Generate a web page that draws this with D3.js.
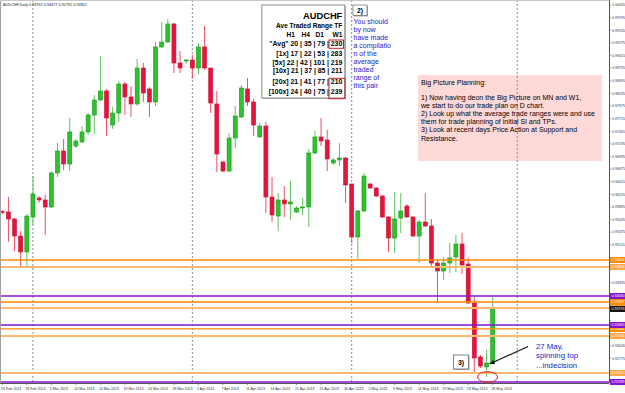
<!DOCTYPE html>
<html><head><meta charset="utf-8">
<script src="https://cdn.jsdelivr.net/npm/d3@7"></script>
<style>body{margin:0;background:#fff;} svg{display:block;font-family:"Liberation Sans",Arial,sans-serif;}</style>
</head><body><svg id="c" width="625" height="393"></svg>
<script>
// ---- Data (AUDCHF Daily, 81 bars) ----
const opens  = [0.95801,0.95791,0.95647,0.95296,0.94967,0.95688,0.96079,0.96038,0.95894,0.96594,
                0.97047,0.96780,0.97150,0.97233,0.97439,0.97789,0.98098,0.98283,0.97583,0.97830,
                0.98428,0.98160,0.98016,0.98757,0.98325,0.98057,0.99190,0.99293,0.99664,0.98860,
                0.98901,0.98922,0.98757,0.99190,0.98757,0.98016,0.96821,0.96635,0.97315,0.97748,
                0.98325,0.98057,0.97336,0.97562,0.96100,0.95708,0.96038,0.95956,0.95791,0.95873,
                0.95894,0.97006,0.97336,0.97274,0.96800,0.96862,0.96903,0.96368,0.95276,0.95811,
                0.96368,0.96285,0.96120,0.95688,0.95255,0.95667,0.95914,0.95688,0.95296,0.95585,
                0.95502,0.94740,0.94575,0.94740,0.94864,0.95132,0.94720,0.93916,0.92804,0.92598,
                0.92680];
const highs  = [0.95832,0.96100,0.95667,0.95399,0.95750,0.96532,0.96120,0.96141,0.96635,0.97212,
                0.97295,0.97727,0.97295,0.97562,0.97830,0.98201,0.99004,0.98325,0.97954,0.98489,
                0.98469,0.98386,0.98943,0.98860,0.98366,0.99293,0.99705,0.99767,0.99684,0.99107,
                0.98943,0.99025,0.99272,0.99622,0.98757,0.98283,0.96841,0.97418,0.97974,0.98407,
                0.98551,0.98119,0.97624,0.97645,0.96512,0.96182,0.96326,0.96429,0.95914,0.96079,
                0.97089,0.97459,0.97727,0.97480,0.96903,0.97212,0.96924,0.96368,0.95832,0.96594,
                0.96388,0.96306,0.96141,0.95708,0.96203,0.96182,0.95956,0.95708,0.95626,0.96182,
                0.95647,0.94802,0.94864,0.95152,0.95317,0.95358,0.94843,0.94040,0.92845,0.92948,
                0.94040];
const lows   = [0.95750,0.95173,0.94987,0.94658,0.94658,0.95523,0.95976,0.95317,0.95873,0.96512,
                0.96656,0.96635,0.97109,0.97212,0.97377,0.97398,0.98077,0.97356,0.97501,0.97645,
                0.97789,0.97748,0.97974,0.98057,0.97748,0.97974,0.99169,0.99272,0.98654,0.98654,
                0.98840,0.98531,0.98634,0.98716,0.97830,0.96615,0.96615,0.96615,0.97109,0.97727,
                0.97974,0.97356,0.97336,0.95770,0.95585,0.95399,0.95688,0.95626,0.95770,0.95729,
                0.95482,0.96986,0.97150,0.96635,0.96759,0.96738,0.95976,0.95152,0.94823,0.95791,
                0.96265,0.96100,0.95668,0.94967,0.94946,0.95358,0.95668,0.95276,0.94740,0.95482,
                0.94637,0.93916,0.94390,0.94534,0.94555,0.94514,0.93896,0.92495,0.92577,0.92392,
                0.92660];
const closes = [0.95781,0.95647,0.95296,0.94967,0.95708,0.96162,0.96038,0.95894,0.96594,0.97047,
                0.96780,0.97439,0.97253,0.97439,0.97789,0.98098,0.98283,0.97727,0.97830,0.98428,
                0.98160,0.98016,0.98757,0.98242,0.98057,0.99190,0.99293,0.99664,0.98860,0.98757,
                0.98922,0.98757,0.99190,0.98757,0.98036,0.96986,0.96635,0.97315,0.97768,0.98345,
                0.98057,0.97583,0.97562,0.96100,0.95729,0.96038,0.95956,0.95997,0.95873,0.95894,
                0.97006,0.97336,0.97253,0.96883,0.96862,0.96903,0.96347,0.95276,0.95811,0.96532,
                0.96285,0.96120,0.95688,0.95255,0.95647,0.95811,0.95688,0.95296,0.95585,0.95502,
                0.94740,0.94575,0.94740,0.94843,0.95132,0.94699,0.93916,0.92783,0.92618,0.92680,
                0.93793];
const xTickIndex  = [0,4,8,12,16,20,24,28,32,36,40,44,48,52,56,60,64,68,72,76,80];
const xTickLabels = ["26 Feb 2013","28 Feb 2013","5 Mar 2013","10 Mar 2013","14 Mar 2013","19 Mar 2013",
                     "24 Mar 2013","28 Mar 2013","2 Apr 2013","7 Apr 2013","11 Apr 2013","16 Apr 2013",
                     "21 Apr 2013","25 Apr 2013","30 Apr 2013","5 May 2013","9 May 2013","14 May 2013",
                     "19 May 2013","23 May 2013","28 May 2013"];
const yTickValues = [1.00055,0.99795,0.99535,0.99275,0.99015,0.98755,0.98495,0.98235,0.97975,0.97715,
                     0.97455,0.97195,0.96935,0.96675,0.96415,0.96155,0.95895,0.95635,0.95375,0.95115,
                     0.94855,0.94595,0.94335,0.94075,0.93815,0.93555,0.93295,0.93035,0.92775,0.92515];
const orangeLevels = [0.94802,0.93937,0.93381];
const paleLevels   = [0.94658,0.93813,0.93236,0.92474];
const purpleLevels = [0.94060,0.93463,0.92289];
const separatorIndex = [5,31,57,84];
const tfHeaders = ["H1","H4","D1","W1"];
const rangeRows = ['"Avg"','[1x]','[5x]','[10x]','[20x]','[100x]'];
const rangeH1 = [20,17,22,21,21,24];
const rangeH4 = [35,22,42,37,41,40];
const rangeD1 = [79,53,101,85,77,75];
const rangeW1 = [230,283,219,211,210,239];
const noteLines = ["You should","by now","have made","a compilatio","n of the","average","traded","range of","this pair"];
const planLines = ["Big Picture Planning:","","1) Now having deon the Big Picture on MN and W1,",
  "we start to do our trade plan on D chart.","2) Look up what the average trade ranges were and use",
  "them for trade planning of initial Sl and TPs.","3) Look at recent days Price Action at Support and","Resistance."];
const calloutLines = ["27 May,","spinning top","...indecision"];
const headerText = "AUDCHF,Daily  0.93767 0.94477 0.92792 0.93812";

// ---- Drawing ----
const svg = d3.select("#c");
const W = 625, H = 393, plotR = 609, plotB = 383;
const x = d3.scaleLinear().domain([0, 80]).range([2.3, 492.7]);
const y = d3.scaleLinear().domain([1.00158, 0.92268]).range([0, plotB]);
const data = opens.map((o, i) => ({i, o, h: highs[i], l: lows[i], c: closes[i]}));
const lastClose = closes[closes.length - 1];
const badgeVals = orangeLevels.concat(paleLevels, purpleLevels, [lastClose]);

svg.append("rect").attr("width", W).attr("height", H).attr("fill", "#fff");
svg.append("defs").append("clipPath").attr("id", "pc")
  .append("rect").attr("x", 0).attr("y", 0).attr("width", plotR).attr("height", plotB);
const plot = svg.append("g").attr("clip-path", "url(#pc)");

// pink planning box
plot.append("rect").attr("x", 418).attr("y", 75).attr("width", 184).attr("height", 86).attr("fill", "#ffd8d8");

// period separators
plot.selectAll("line.sep").data(separatorIndex).join("line")
  .attr("x1", d => x(d)).attr("x2", d => x(d)).attr("y1", 0).attr("y2", plotB)
  .attr("stroke", "#8a8a8a").attr("stroke-width", 1).attr("stroke-dasharray", "2,2");

// candles
const cg = plot.append("g");
cg.selectAll("line.wick").data(data).join("line")
  .attr("x1", d => x(d.i)).attr("x2", d => x(d.i))
  .attr("y1", d => y(d.h)).attr("y2", d => y(d.l))
  .attr("stroke", d => d.c >= d.o ? "#5cc45c" : "#ee4d66").attr("stroke-width", 1);
cg.selectAll("rect.body").data(data).join("rect")
  .attr("x", d => x(d.i) - 2).attr("width", 4)
  .attr("y", d => y(Math.max(d.o, d.c)))
  .attr("height", d => Math.max(1, Math.abs(y(d.o) - y(d.c))))
  .attr("fill", d => d.c >= d.o ? "#2ec22e" : "#e3153d")
  .attr("stroke", d => d.c >= d.o ? "#169a16" : "#d01034").attr("stroke-width", 0.6);

// horizontal levels
function levels(arr, col, w) {
  plot.append("g").selectAll("line").data(arr).join("line")
    .attr("x1", 0).attr("x2", plotR).attr("y1", d => y(d)).attr("y2", d => y(d))
    .attr("stroke", col).attr("stroke-width", w);
}
levels(paleLevels, "#ffb870", 2);
levels(orangeLevels, "#ff8a00", 1.3);
levels(purpleLevels, "#8414cc", 1.4);

// frame & axes
svg.append("line").attr("x1", 0.5).attr("x2", 0.5).attr("y1", 0).attr("y2", plotB).attr("stroke", "#a0a0a0");
svg.append("line").attr("x1", 0).attr("x2", plotR).attr("y1", 0.5).attr("y2", 0.5).attr("stroke", "#c8c8c8");
svg.append("line").attr("x1", plotR + 0.5).attr("x2", plotR + 0.5).attr("y1", 0).attr("y2", plotB).attr("stroke", "#555");
svg.append("line").attr("x1", 0).attr("x2", plotR).attr("y1", plotB + 0.5).attr("y2", plotB + 0.5).attr("stroke", "#555");

// y tick labels (those hidden behind price badges are not drawn)
const visibleY = yTickValues.filter(v => badgeVals.every(b => Math.abs(y(v) - y(b)) > 6));
const yAx = svg.append("g");
yAx.selectAll("line").data(yTickValues).join("line")
  .attr("x1", plotR).attr("x2", plotR + 2).attr("y1", d => y(d)).attr("y2", d => y(d)).attr("stroke", "#555").attr("stroke-width", 0.6);
yAx.selectAll("text").data(visibleY).join("text")
  .attr("x", plotR + 3).attr("y", d => y(d) + 1.3).attr("font-size", 3.6).attr("fill", "#333")
  .text(d => d.toFixed(5));

const xAx = svg.append("g");
xAx.selectAll("line").data(xTickIndex).join("line")
  .attr("x1", d => x(d)).attr("x2", d => x(d)).attr("y1", plotB).attr("y2", plotB + 2).attr("stroke", "#555").attr("stroke-width", 0.6);
xAx.selectAll("text").data(xTickIndex).join("text")
  .attr("x", (d, k) => k === 0 ? 1 : x(d) - 1.5).attr("y", 389.5).attr("font-size", 3.6).attr("fill", "#333")
  .text((d, k) => xTickLabels[k]);

// price badges
function badges(arr, col, tcol) {
  const g = svg.append("g").selectAll("g").data(arr).join("g");
  g.append("rect").attr("x", plotR + 1).attr("y", d => y(d) - 3).attr("width", 15).attr("height", 6).attr("fill", col);
  g.append("text").attr("x", plotR + 2.5).attr("y", d => y(d) + 1.3).attr("font-size", 3.6).attr("fill", tcol).text(d => d.toFixed(5));
}
badges(orangeLevels, "#ff8a00", "#fff");
badges(paleLevels, "#ffa545", "#fff");
badges(purpleLevels, "#8414cc", "#fff");
badges([lastClose], "#111", "#fff");

// header
svg.append("text").attr("x", 3).attr("y", 5.5).attr("font-size", 3.8).attr("fill", "#222").text(headerText);

// range table
svg.append("rect").attr("x", 263).attr("y", 6).attr("width", 83).attr("height", 93).attr("fill", "#bbb");
svg.append("rect").attr("x", 261.8).attr("y", 5).attr("width", 83).attr("height", 93)
  .attr("fill", "#fff").attr("stroke", "#8a8a8a").attr("stroke-width", 1);
const tb = svg.append("g").attr("font-weight", "bold").attr("fill", "#000");
tb.append("text").attr("x", 342.3).attr("y", 19.3).attr("text-anchor", "end").attr("font-size", 9.3).text("AUDCHF");
tb.append("text").attr("x", 342.3).attr("y", 28).attr("text-anchor", "end").attr("font-size", 6.5).text("Ave Traded Range TF");
const hdrX = [295, 310, 324, 342.3];
tb.selectAll("text.h").data(tfHeaders).join("text").attr("class", "h")
  .attr("x", (d, k) => hdrX[k]).attr("y", 36.7).attr("text-anchor", "end").attr("font-size", 6.6).text(d => d);
const rowY = [46.3, 55.7, 64.7, 73.3, 83.7, 94];
tb.selectAll("text.r").data(rangeRows).join("text").attr("class", "r")
  .attr("x", 342.3).attr("y", (d, k) => rowY[k]).attr("text-anchor", "end").attr("font-size", 6.9)
  .text((d, k) => `${d} ${rangeH1[k]} | ${rangeH4[k]} | ${rangeD1[k]} | ${rangeW1[k]}`);
svg.append("rect").attr("x", 329).attr("y", 40).attr("width", 14.5).attr("height", 8.3)
  .attr("fill", "none").attr("stroke", "#d02020").attr("stroke-width", 1);
svg.append("rect").attr("x", 329).attr("y", 78.3).attr("width", 16).attr("height", 20.4)
  .attr("fill", "none").attr("stroke", "#d02020").attr("stroke-width", 1);

// "2)" box and note
svg.append("rect").attr("x", 354).attr("y", 6).attr("width", 14).attr("height", 10.5).attr("fill", "#aaa");
svg.append("rect").attr("x", 353).attr("y", 5).attr("width", 14).attr("height", 10.5).attr("fill", "#fff").attr("stroke", "#777").attr("stroke-width", 0.8);
svg.append("text").attr("x", 360).attr("y", 12.8).attr("text-anchor", "middle").attr("font-size", 7).attr("font-weight", "bold").text("2)");
svg.append("g").selectAll("text").data(noteLines).join("text")
  .attr("x", 353.5).attr("y", (d, k) => 23.5 + k * 8.1).attr("font-size", 7).attr("fill", "#2323c8").text(d => d);

// planning text
svg.append("g").selectAll("text").data(planLines).join("text")
  .attr("x", 421).attr("y", (d, k) => k === 0 ? 85 : 99.5 + (k - 2) * 8.2).attr("font-size", 7).attr("fill", "#000").text(d => d);

// "3)" box
svg.append("rect").attr("x", 454.5).attr("y", 356).attr("width", 15).attr("height", 14).attr("fill", "#aaa");
svg.append("rect").attr("x", 453.5).attr("y", 355).attr("width", 15).attr("height", 14).attr("fill", "#fff").attr("stroke", "#666").attr("stroke-width", 0.8);
svg.append("text").attr("x", 461).attr("y", 364.5).attr("text-anchor", "middle").attr("font-size", 7).attr("font-weight", "bold").text("3)");

// ellipse around spinning top low
svg.append("ellipse").attr("cx", x(79) + 1).attr("cy", 377).attr("rx", 10).attr("ry", 5.3)
  .attr("fill", "none").attr("stroke", "#e02020").attr("stroke-width", 1);

// arrow and callout
const ax1 = 528, ay1 = 346.5, ax2 = x(79) + 3, ay2 = y(closes[79]) + 1;
svg.append("line").attr("x1", ax1).attr("y1", ay1).attr("x2", ax2).attr("y2", ay2).attr("stroke", "#111").attr("stroke-width", 1.1);
const ang = Math.atan2(ay2 - ay1, ax2 - ax1);
const hl = 5, hw = 2.2;
const bx = ax2 - hl * Math.cos(ang), by = ay2 - hl * Math.sin(ang);
svg.append("path").attr("d", `M${ax2},${ay2}L${bx - hw * Math.sin(ang)},${by + hw * Math.cos(ang)}L${bx + hw * Math.sin(ang)},${by - hw * Math.cos(ang)}Z`).attr("fill", "#111");
svg.append("g").selectAll("text").data(calloutLines).join("text")
  .attr("x", 536).attr("y", (d, k) => 348.5 + k * 9.5).attr("font-size", 7.8).attr("fill", "#2323c8").text(d => d);
</script></body></html>
